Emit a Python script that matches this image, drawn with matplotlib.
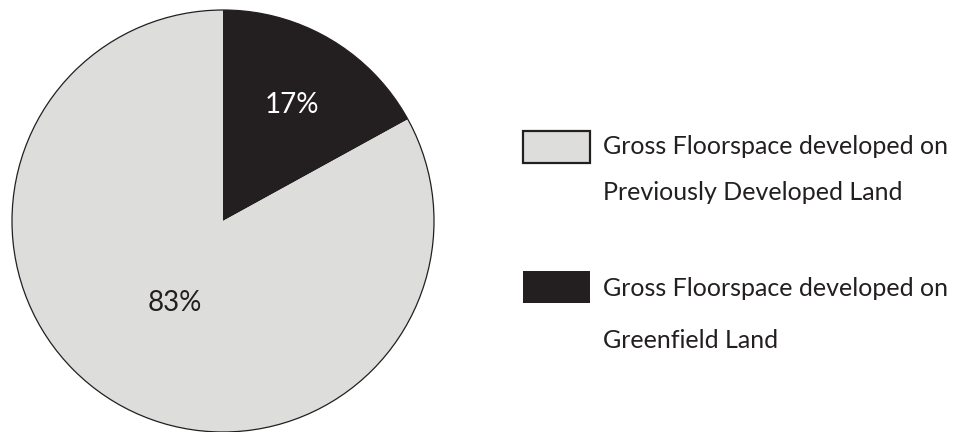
import matplotlib
matplotlib.use("Agg")
import matplotlib.pyplot as plt
import numpy as np
from matplotlib.patches import Rectangle, Circle

plt.rcParams['font.family'] = ['Lato', 'DejaVu Sans']

categories = ["Gross Floorspace developed on\nGreenfield Land",
              "Gross Floorspace developed on\nPreviously Developed Land"]
shares = [17, 83]
colors = ["#231f20", "#dddddc"]
label_colors = ["white", "#231f20"]
label_r = [0.64, 0.45]

fig = plt.figure(figsize=(9.55, 4.32), dpi=100)
ax = fig.add_axes([0, 0, 1, 1])

cx, cy, rad = 223, 211, 211
wedges, _ = ax.pie(shares, colors=colors, startangle=90, counterclock=False,
                   center=(cx, cy), radius=rad,
                   wedgeprops=dict(edgecolor="none", linewidth=0))
ax.add_patch(Circle((cx, cy), rad, fill=False, edgecolor="#231f20", linewidth=0.9))

for w, s, c, r in zip(wedges, shares, label_colors, label_r):
    mid = np.deg2rad((w.theta1 + w.theta2) / 2)
    ax.text(cx + r * rad * np.cos(mid), cy + r * rad * np.sin(mid), f"{s}%",
            ha="center", va="center", fontsize=20, color=c)

# legend drawn by hand (pixel rows from the top): previously developed first
order = [1, 0]
box_top = [131, 271]
line_y = [(147, 193), (288, 340)]
for k, i in enumerate(order):
    ax.add_patch(Rectangle((523, 432 - box_top[k] - 32), 67, 32, facecolor=colors[i],
                           edgecolor="#231f20", linewidth=1.6 if i == 1 else 0))
    for txt, y in zip(categories[i].split("\n"), line_y[k]):
        ax.text(603, 432 - y, txt, ha="left", va="center", fontsize=18, color="#231f20")

ax.set_xlim(0, 955)
ax.set_ylim(0, 432)
ax.set_aspect("auto")
ax.axis("off")

fig.savefig("out.png", dpi=100)
